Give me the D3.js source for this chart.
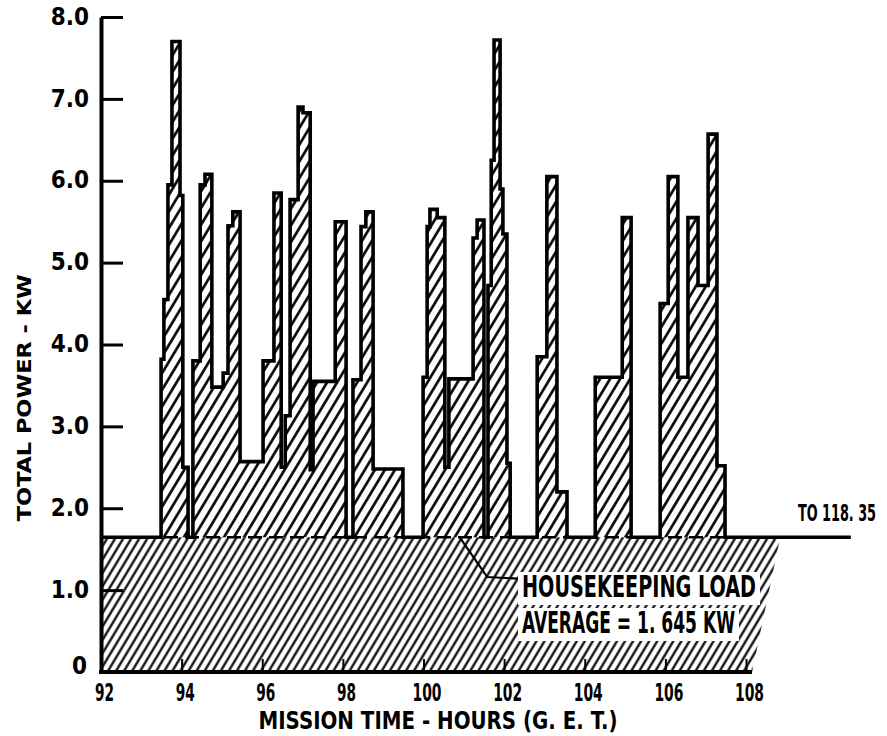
<!DOCTYPE html>
<html>
<head>
<meta charset="utf-8">
<script src="https://cdn.jsdelivr.net/npm/d3@7"></script>
<style>
  html, body { margin: 0; padding: 0; background: #fff; }
  svg text { font-family: "Liberation Sans Narrow", "DejaVu Sans Condensed", "DejaVu Sans", sans-serif; font-weight: bold; fill: #000; }
</style>
</head>
<body>
<svg id="chart" width="887" height="736"></svg>
<script>
// step start times (hours G.E.T.) and power level held from each start until the next
const stepStart = [92, 93.49, 93.56, 93.66, 93.76, 93.96, 94.03, 94.16, 94.28, 94.46, 94.58, 94.75, 95.03, 95.15, 95.27, 95.45,
  96.02, 96.29, 96.47, 96.57, 96.69, 96.89, 97.01, 97.19, 97.26, 97.81, 98.08, 98.25, 98.45, 98.57, 98.75, 99.49,
  99.99, 100.09, 100.16, 100.34, 100.53, 100.63, 101.23, 101.33, 101.50, 101.60, 101.68, 101.75, 101.90, 101.97, 102.07, 102.15,
  102.82, 103.06, 103.31, 103.56, 104.26, 104.93, 105.15, 105.87, 106.07, 106.31, 106.56, 106.81, 107.06, 107.28, 107.48]
const stepPower = [1.645, 3.82, 4.55, 5.95, 7.70, 5.82, 2.50, 1.645, 3.80, 5.95, 6.08, 3.48, 3.65, 5.45, 5.62, 2.57,
  3.80, 5.85, 2.50, 3.13, 5.77, 6.90, 6.83, 2.47, 3.55, 5.50, 1.645, 3.57, 5.44, 5.62, 2.48, 1.645,
  3.60, 5.44, 5.65, 5.55, 2.50, 3.58, 5.30, 5.52, 1.645, 4.72, 6.25, 7.72, 5.90, 5.35, 2.55, 1.645,
  3.85, 6.05, 2.20, 1.645, 3.60, 5.55, 1.645, 4.50, 6.05, 3.60, 5.55, 4.72, 6.57, 2.52, 1.645]

const housekeepingLoad = 1.645
const lineEndTime = 110.6          // line runs on "TO 118.35"
const breakBottomTime = 108.15     // slanted break of the housekeeping band
const breakTopTime = 108.85
const leaderPoints = [[100.9, 1.645], [101.58, 1.16], [102.35, 1.14]]

const xTicks = [92, 94, 96, 98, 100, 102, 104, 106, 108]
const yTicks = [0, 1, 2, 3, 4, 5, 6, 7, 8]

const svg = d3.select("#chart")

const x = d3.scaleLinear().domain([92, 108]).range([101, 746])
const y = d3.scaleLinear().domain([0, 8]).range([672, 17])

const defs = svg.append("defs")
const makeHatch = (id, gap, width) => {
  defs.append("pattern")
    .attr("id", id)
    .attr("patternUnits", "userSpaceOnUse")
    .attr("width", gap)
    .attr("height", gap)
    .attr("patternTransform", "rotate(31)")
    .append("line")
      .attr("x1", gap / 2).attr("y1", -1)
      .attr("x2", gap / 2).attr("y2", gap + 1)
      .attr("stroke", "#000")
      .attr("stroke-width", width)
}
makeHatch("hatch-upper", 8.6, 2.6)
makeHatch("hatch-lower", 6.9, 2.2)

const steps = stepStart.map((t, i) => ({ t, p: stepPower[i] }))
const lastStep = stepStart[stepStart.length - 1]

// housekeeping band under 1.645 kW
const band = [[92, 0], [breakBottomTime, 0], [breakTopTime, housekeepingLoad], [92, housekeepingLoad]]
svg.append("path")
  .attr("d", d3.line().x(d => x(d[0])).y(d => y(d[1]))(band) + "Z")
  .attr("fill", "url(#hatch-lower)")

// load above housekeeping
const area = d3.area()
  .curve(d3.curveStepAfter)
  .x(d => x(d.t))
  .y0(y(housekeepingLoad))
  .y1(d => y(d.p))

svg.append("path")
  .attr("d", area(steps.filter(d => d.t <= lastStep)))
  .attr("fill", "url(#hatch-upper)")

// dashed average line
svg.append("line")
  .attr("x1", x(92)).attr("x2", x(breakTopTime - 0.2))
  .attr("y1", y(housekeepingLoad)).attr("y2", y(housekeepingLoad))
  .attr("stroke", "#000")
  .attr("stroke-width", 2.6)
  .attr("stroke-dasharray", "14,7")

// step outline
const stepLine = d3.line()
  .curve(d3.curveStepAfter)
  .x(d => x(d.t))
  .y(d => y(d.p))

svg.append("path")
  .attr("d", stepLine(steps.concat([{ t: lineEndTime, p: housekeepingLoad }])))
  .attr("fill", "none")
  .attr("stroke", "#000")
  .attr("stroke-width", 3.6)
  .attr("stroke-linejoin", "miter")

// leader line to the label
svg.append("path")
  .attr("d", d3.line().x(d => x(d[0])).y(d => y(d[1]))(leaderPoints))
  .attr("fill", "none")
  .attr("stroke", "#000")
  .attr("stroke-width", 2.2)

// axes
svg.append("g")
  .attr("transform", `translate(${x(92)},0)`)
  .call(d3.axisLeft(y).tickValues(yTicks).tickSize(-22).tickSizeOuter(0).tickPadding(12)
    .tickFormat(d => d === 0 ? "0" : d.toFixed(1)))
  .call(g => g.select(".domain").attr("stroke-width", 4))
  .call(g => g.selectAll(".tick line").attr("stroke-width", 3))
  .call(g => g.selectAll(".tick text")
    .attr("font-size", 24)
    .attr("dy", "0.3em"))
  .call(g => g.selectAll(".tick").filter(d => d === 0).select("text")
    .attr("x", -14).attr("dy", "0.05em"))

svg.append("g")
  .attr("transform", `translate(0,${y(0)})`)
  .call(d3.axisBottom(x).tickValues(xTicks).tickSize(-13).tickSizeOuter(0).tickPadding(12))
  .call(g => g.select(".domain").remove())
  .call(g => g.selectAll(".tick line").attr("stroke-width", 2))
  .call(g => g.selectAll(".tick text")
    .attr("font-size", 24)
    .attr("x", 3)
    .attr("textLength", d => String(d).length > 2 ? 29 : 19)
    .attr("lengthAdjust", "spacingAndGlyphs"))

svg.append("line")
  .attr("x1", x(92) - 2).attr("x2", x(breakBottomTime))
  .attr("y1", y(0)).attr("y2", y(0))
  .attr("stroke", "#000")
  .attr("stroke-width", 4)

// titles and labels
const addText = (txt, xPos, yPos, size, len, anchor = "start") => svg.append("text")
  .attr("x", xPos).attr("y", yPos)
  .attr("font-size", size)
  .attr("text-anchor", anchor)
  .attr("textLength", len)
  .attr("lengthAdjust", "spacingAndGlyphs")
  .text(txt)

addText("MISSION TIME - HOURS (G. E. T.)", 438, 729, 25, 359, "middle")

svg.append("text")
  .attr("transform", "translate(876,521) scale(0.62,1)")
  .attr("text-anchor", "end")
  .attr("font-size", 23)
  .text("TO 118. 35")

const labelLines = [
  { txt: "HOUSEKEEPING LOAD", yPos: 597, len: 234 },
  { txt: "AVERAGE = 1. 645 KW", yPos: 633, len: 213 }
]
labelLines.forEach(l => {
  const t = addText(l.txt, 522, l.yPos, 30, l.len)
  const b = t.node().getBBox()
  svg.insert("rect", () => t.node())
    .attr("x", b.x - 4).attr("y", b.y + 3)
    .attr("width", b.width + 8).attr("height", b.height - 2)
    .attr("fill", "#fff")
})

svg.append("text")
  .attr("transform", `translate(31,${(y(3.35))}) rotate(-90)`)
  .attr("text-anchor", "middle")
  .attr("font-size", 20)
  .attr("textLength", 247)
  .attr("lengthAdjust", "spacingAndGlyphs")
  .text("TOTAL POWER - KW")
</script>
</body>
</html>
